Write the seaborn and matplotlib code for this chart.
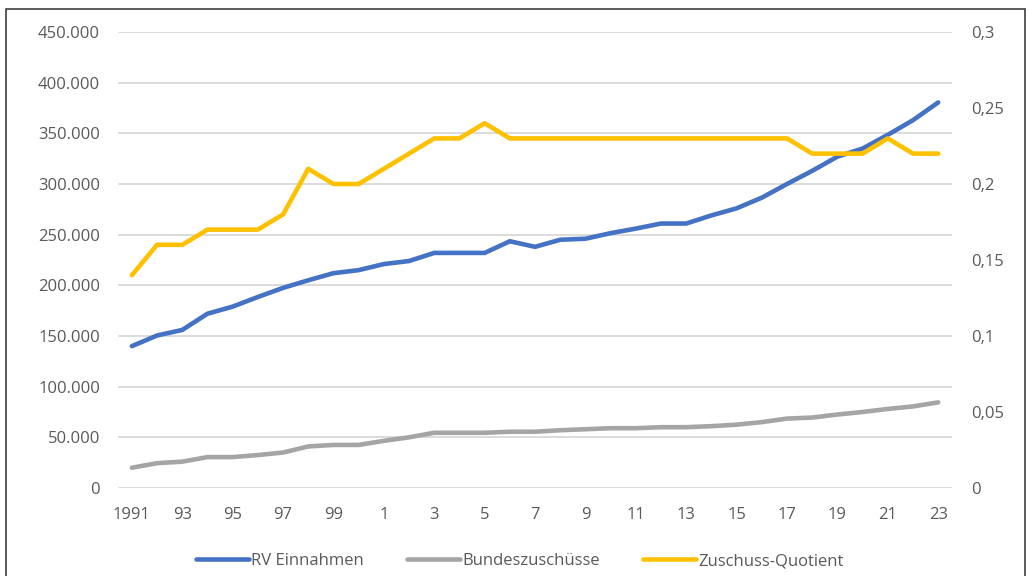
import matplotlib.pyplot as plt
import matplotlib.ticker as mticker
from matplotlib.patches import Rectangle
import seaborn as sns

# values
years = list(range(1991, 2024))
rv_einnahmen = [140000, 150500, 156000, 172000, 179000, 188500, 197500, 205000, 212000, 215000,
                221000, 224000, 232000, 232000, 232000, 243500, 238000, 245000, 246000, 251500,
                256000, 261000, 261000, 269000, 276000, 286500, 300000, 313000, 327000, 335000,
                348500, 363000, 380500]
bundeszuschuesse = [20000, 24500, 26000, 30500, 30500, 32500, 35000, 41000, 42500, 42500,
                    46500, 50000, 54500, 54500, 54500, 55500, 55500, 57000, 58000, 59000,
                    59000, 60000, 60000, 61000, 62500, 65000, 68500, 69500, 72500, 75000,
                    78000, 80500, 84500]
quotient = [0.14, 0.16, 0.16, 0.17, 0.17, 0.17, 0.18, 0.21, 0.20, 0.20,
            0.21, 0.22, 0.23, 0.23, 0.24, 0.23, 0.23, 0.23, 0.23, 0.23,
            0.23, 0.23, 0.23, 0.23, 0.23, 0.23, 0.23, 0.22, 0.22, 0.22,
            0.23, 0.22, 0.22]
xtick_years = list(range(1991, 2024, 2))
xtick_labels = ["1991"] + [str(y % 100) for y in xtick_years[1:]]

sns.set_theme(style="white")
plt.rcParams['font.family'] = ['Open Sans', 'DejaVu Sans']
txt = "#595959"

fig = plt.figure(figsize=(10.29, 5.76), dpi=100)
ax = fig.add_axes([0.1147, 0.1528, 0.8105, 0.7916])
ax2 = ax.twinx()

sns.lineplot(x=years, y=rv_einnahmen, ax=ax, color="#4472C4", lw=3.3,
             label="RV Einnahmen", legend=False, zorder=3)
sns.lineplot(x=years, y=bundeszuschuesse, ax=ax, color="#A5A5A5", lw=3.3,
             label="Bundeszuschüsse", legend=False, zorder=3)
sns.lineplot(x=years, y=quotient, ax=ax2, color="#FFC000", lw=3.3,
             label="Zuschuss-Quotient", legend=False)

ax.set_xlim(1990.45, 2023.55)
ax.set_ylim(0, 450000)
ax2.set_ylim(0, 0.3)
ax.set_yticks(range(0, 450001, 50000))
ax2.set_yticks([0, 0.05, 0.1, 0.15, 0.2, 0.25, 0.3])
ax.yaxis.set_major_formatter(mticker.FuncFormatter(lambda v, p: f"{int(v):,}".replace(",", ".")))
ax2.yaxis.set_major_formatter(mticker.FuncFormatter(
    lambda v, p: "0" if v == 0 else f"{v:g}".replace(".", ",")))
ax.set_xticks(xtick_years)
ax.set_xticklabels(xtick_labels)

ax.grid(axis="y", color="#D9D9D9", lw=1.3)
ax.set_axisbelow(True)
for a in (ax, ax2):
    for s in a.spines.values():
        s.set_visible(False)
ax.tick_params(axis="y", length=0, pad=13, labelsize=12, labelcolor=txt)
ax.tick_params(axis="x", length=0, pad=14, labelsize=12, labelcolor=txt)
ax2.tick_params(axis="y", length=0, pad=14, labelsize=12, labelcolor=txt)
ax.set_xlabel("")
ax.set_ylabel("")

h1, l1 = ax.get_legend_handles_labels()
h2, l2 = ax2.get_legend_handles_labels()
fig.legend(h1 + h2, l1 + l2, loc="center", bbox_to_anchor=(0.505, 0.026), ncol=3,
           frameon=False, fontsize=12, labelcolor=txt, handlelength=3.2,
           handletextpad=0.1, columnspacing=2.6)

# chart border
fig.patches.append(Rectangle((6 / 1029, -0.05), 1019 / 1029, 1.05 - 9 / 576,
                             transform=fig.transFigure, fill=False,
                             edgecolor="#3F3F3F", lw=1.2))

fig.savefig("out.png", dpi=100)
